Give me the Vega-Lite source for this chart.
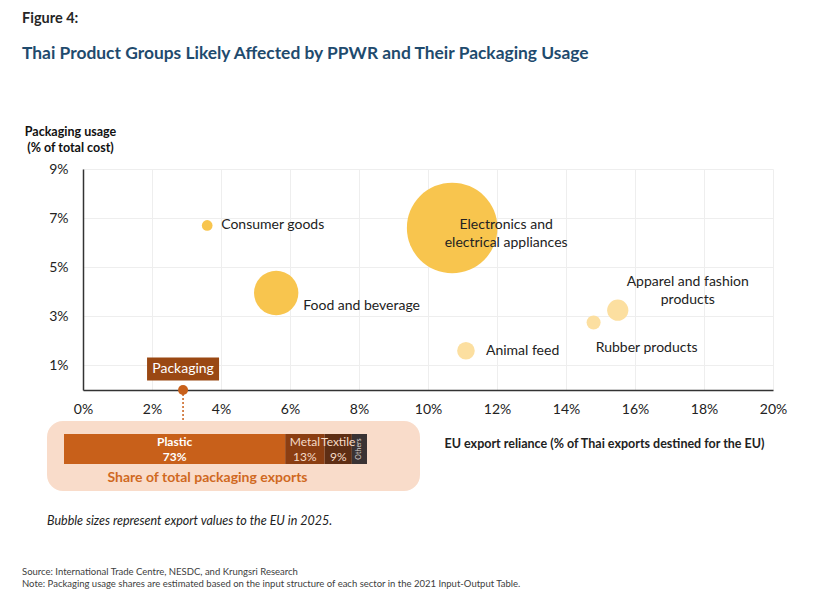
{
  "$schema": "https://vega.github.io/schema/vega-lite/v6.json",
  "background": "white",
  "padding": {"left": 22, "top": 11, "right": 10, "bottom": 10},
  "bounds": "flush",
  "spacing": 31,
  "resolve": {"scale": {"color": "independent", "size": "independent", "x": "independent", "y": "independent"}},
  "title": {
    "text": "Source: International Trade Centre, NESDC, and Krungsri Research",
    "subtitle": "Note: Packaging usage shares are estimated based on the input structure of each sector in the 2021 Input-Output Table.",
    "orient": "bottom", "anchor": "start", "frame": "group", "dx": -25, "offset": 39,
    "fontSize": 9.5, "fontWeight": "normal", "color": "#404040",
    "subtitleFontSize": 9.5, "subtitleColor": "#404040", "subtitlePadding": 3
  },
  "config": {
    "font": "Lato",
    "view": {"stroke": null},
    "axis": {"labelFont": "Lato", "titleFont": "Lato"},
    "title": {"font": "Lato", "subtitleFont": "Lato"},
    "text": {"font": "Lato"}
  },
  "vconcat": [
    {
      "width": 726,
      "height": 221,
      "title": {
        "text": "Figure 4:",
        "subtitle": "Thai Product Groups Likely Affected by PPWR and Their Packaging Usage",
        "anchor": "start", "frame": "group", "dx": -25, "offset": 62,
        "fontSize": 14.5, "fontWeight": "bold", "color": "#262626",
        "subtitleFontSize": 17.4, "subtitleFontWeight": "bold", "subtitleColor": "#1F4B6E", "subtitlePadding": 18
      },
      "data": {"values": [
        {"sector": "Consumer goods", "label": "Consumer goods", "eu_share": 3.6, "packaging_cost": 6.7, "eu_exports": 0.14, "tier": "high"},
        {"sector": "Food and beverage", "label": "Food and beverage", "eu_share": 5.6, "packaging_cost": 3.95, "eu_exports": 2.4, "tier": "high"},
        {"sector": "Electronics and electrical appliances", "label": "Electronics and\nelectrical appliances", "eu_share": 10.7, "packaging_cost": 6.6, "eu_exports": 10.0, "tier": "high"},
        {"sector": "Animal feed", "label": "Animal feed", "eu_share": 11.1, "packaging_cost": 1.6, "eu_exports": 0.38, "tier": "low"},
        {"sector": "Rubber products", "label": "Rubber products", "eu_share": 14.8, "packaging_cost": 2.75, "eu_exports": 0.24, "tier": "low"},
        {"sector": "Apparel and fashion products", "label": "Apparel and fashion\nproducts", "eu_share": 15.5, "packaging_cost": 3.25, "eu_exports": 0.55, "tier": "low"},
        {"sector": "Packaging", "label": "Packaging", "eu_share": 2.9, "packaging_cost": 0, "eu_exports": null, "tier": "packaging"}
      ]},
      "encoding": {
        "x": {
          "field": "eu_share", "type": "quantitative",
          "scale": {"domain": [0, 20], "range": [36, 726], "nice": false, "zero": false},
          "axis": {
            "values": [0, 2, 4, 6, 8, 10, 12, 14, 16, 18, 20],
            "labelExpr": "datum.value + '%'",
            "ticks": false, "tickSize": 0, "labelPadding": 12, "labelFlush": false,
            "labelFontSize": 14, "labelColor": "#222",
            "domainColor": "#333", "domainWidth": 1.5,
            "grid": true, "gridColor": "#eeeeee",
            "title": "EU export reliance (% of Thai exports destined for the EU)",
            "titleX": 557, "titleY": 57, "titleAlign": "center", "titleBaseline": "alphabetic",
            "titleFontSize": 12.5, "titleFontWeight": "bold", "titleColor": "#222"
          }
        },
        "y": {
          "field": "packaging_cost", "type": "quantitative",
          "scale": {"domain": [0, 9], "nice": false, "zero": false},
          "axis": {
            "values": [1, 3, 5, 7, 9],
            "labelExpr": "datum.value + '%'",
            "offset": -36,
            "ticks": false, "tickSize": 0, "labelPadding": 15, "labelFlush": false,
            "labelFontSize": 14, "labelColor": "#222",
            "domainColor": "#333", "domainWidth": 1.5,
            "grid": true, "gridColor": "#eeeeee",
            "title": ["Packaging usage", "(% of total cost)"],
            "titleAngle": 0, "titleAlign": "center", "titleX": -13, "titleY": -34,
            "titleBaseline": "alphabetic", "titleLineHeight": 16,
            "titleFontSize": 12.5, "titleFontWeight": "bold", "titleColor": "#111"
          }
        }
      },
      "layer": [
        {
          "transform": [{"filter": "datum.sector !== 'Packaging'"}],
          "mark": {"type": "circle", "opacity": 1},
          "encoding": {
            "size": {"field": "eu_exports", "type": "quantitative", "scale": {"domain": [0, 10], "range": [0, 8200]}, "legend": null},
            "color": {"field": "tier", "type": "nominal", "scale": {"domain": ["high", "low"], "range": ["#F8C54E", "#FCDFA0"]}, "legend": null}
          }
        },
        {
          "transform": [{"filter": "datum.sector === 'Consumer goods'"}],
          "mark": {"type": "text", "align": "left", "baseline": "middle", "dx": 14, "dy": 0, "fontSize": 14, "color": "#222"},
          "encoding": {"text": {"field": "label"}}
        },
        {
          "transform": [{"filter": "datum.sector === 'Food and beverage'"}],
          "mark": {"type": "text", "align": "left", "baseline": "middle", "dx": 27, "dy": 13, "fontSize": 14, "color": "#222"},
          "encoding": {"text": {"field": "label"}}
        },
        {
          "transform": [{"filter": "datum.sector === 'Electronics and electrical appliances'"}],
          "mark": {"type": "text", "align": "center", "baseline": "middle", "dx": 54, "dy": -3, "fontSize": 14, "lineHeight": 18, "lineBreak": "\n", "color": "#222"},
          "encoding": {"text": {"field": "label"}}
        },
        {
          "transform": [{"filter": "datum.sector === 'Animal feed'"}],
          "mark": {"type": "text", "align": "left", "baseline": "middle", "dx": 20, "dy": 0, "fontSize": 14, "color": "#222"},
          "encoding": {"text": {"field": "label"}}
        },
        {
          "transform": [{"filter": "datum.sector === 'Rubber products'"}],
          "mark": {"type": "text", "align": "center", "baseline": "middle", "dx": 53, "dy": 26, "fontSize": 14, "color": "#222"},
          "encoding": {"text": {"field": "label"}}
        },
        {
          "transform": [{"filter": "datum.sector === 'Apparel and fashion products'"}],
          "mark": {"type": "text", "align": "center", "baseline": "middle", "dx": 70, "dy": -28, "fontSize": 14, "lineHeight": 18, "lineBreak": "\n", "color": "#222"},
          "encoding": {"text": {"field": "label"}}
        },
        {
          "transform": [{"filter": "datum.sector === 'Packaging'"}],
          "mark": {"type": "rule", "color": "#C8601A", "strokeDash": [2, 2], "strokeWidth": 1.5},
          "encoding": {"y2": {"datum": -1.3}}
        },
        {
          "transform": [{"filter": "datum.sector === 'Packaging'"}],
          "mark": {"type": "circle", "size": 100, "opacity": 1, "color": "#C8601A"}
        },
        {
          "transform": [{"filter": "datum.sector === 'Packaging'"}],
          "mark": {"type": "rect", "width": 72, "height": 23, "yOffset": -21, "color": "#9A4813"}
        },
        {
          "transform": [{"filter": "datum.sector === 'Packaging'"}],
          "mark": {"type": "text", "align": "center", "baseline": "middle", "dy": -21, "fontSize": 14, "color": "white"},
          "encoding": {"text": {"field": "label"}}
        }
      ]
    },
    {
      "width": 373,
      "height": 70,
      "view": {"fill": "#F9DCCA", "cornerRadius": 16, "stroke": null},
      "title": {
        "text": "Bubble sizes represent export values to the EU in 2025.",
        "orient": "bottom", "anchor": "start", "frame": "group", "offset": 24,
        "fontSize": 12.5, "fontStyle": "italic", "fontWeight": "normal", "color": "#222"
      },
      "data": {"values": [
        {"series": "Packaging exports", "material": "Plastic", "share": 0.73},
        {"series": "Packaging exports", "material": "Metal", "share": 0.13},
        {"series": "Packaging exports", "material": "Textile", "share": 0.09},
        {"series": "Packaging exports", "material": "Others", "share": 0.05}
      ]},
      "encoding": {
        "y": {"field": "series", "type": "nominal", "scale": {"range": [13, 43], "paddingInner": 0, "paddingOuter": 0}, "axis": null},
        "order": {"field": "share", "sort": "descending"},
        "detail": {"field": "material"}
      },
      "layer": [
        {
          "mark": {"type": "bar"},
          "encoding": {
            "x": {"field": "share", "type": "quantitative", "stack": "zero",
              "scale": {"domain": [0, 1], "range": [17, 320], "nice": false, "zero": false},
              "axis": {"orient": "bottom", "domain": false, "ticks": false, "labels": false, "grid": false,
                "title": "Share of total packaging exports", "titleX": 160, "titleY": -14,
                "titleAlign": "center", "titleBaseline": "middle", "titleFontSize": 14, "titleFontWeight": "bold", "titleColor": "#D0691F"}},
            "color": {"field": "material", "type": "nominal", "scale": {"domain": ["Plastic", "Metal", "Textile", "Others"], "range": ["#C8601A", "#8B3E12", "#5E2E14", "#3A3334"]}, "legend": null}
          }
        },
        {
          "mark": {"type": "text", "align": "center", "baseline": "middle", "dy": -7.5, "fontSize": 12, "fontWeight": "bold", "color": "white"},
          "encoding": {
            "x": {"field": "share", "type": "quantitative", "stack": "zero", "bandPosition": 0.5,
              "axis": {"orient": "bottom", "domain": false, "ticks": false, "labels": false, "grid": false,
                "title": "Share of total packaging exports", "titleX": 160, "titleY": -14,
                "titleAlign": "center", "titleBaseline": "middle", "titleFontSize": 14, "titleFontWeight": "bold", "titleColor": "#D0691F"}},
            "text": {"condition": {"test": "datum.material === 'Plastic'", "field": "material", "type": "nominal"}, "value": ""}
          }
        },
        {
          "mark": {"type": "text", "align": "center", "baseline": "middle", "dy": 7.5, "fontSize": 12, "fontWeight": "bold", "color": "white"},
          "encoding": {
            "x": {"field": "share", "type": "quantitative", "stack": "zero", "bandPosition": 0.5,
              "axis": {"orient": "bottom", "domain": false, "ticks": false, "labels": false, "grid": false,
                "title": "Share of total packaging exports", "titleX": 160, "titleY": -14,
                "titleAlign": "center", "titleBaseline": "middle", "titleFontSize": 14, "titleFontWeight": "bold", "titleColor": "#D0691F"}},
            "text": {"condition": {"test": "datum.material === 'Plastic'", "field": "share", "type": "quantitative", "format": ".0%"}, "value": ""}
          }
        },
        {
          "mark": {"type": "text", "align": "center", "baseline": "middle", "dy": -7.5, "fontSize": 12, "color": "#F6DCC8"},
          "encoding": {
            "x": {"field": "share", "type": "quantitative", "stack": "zero", "bandPosition": 0.5,
              "axis": {"orient": "bottom", "domain": false, "ticks": false, "labels": false, "grid": false,
                "title": "Share of total packaging exports", "titleX": 160, "titleY": -14,
                "titleAlign": "center", "titleBaseline": "middle", "titleFontSize": 14, "titleFontWeight": "bold", "titleColor": "#D0691F"}},
            "text": {"condition": {"test": "datum.material === 'Metal' || datum.material === 'Textile'", "field": "material", "type": "nominal"}, "value": ""}
          }
        },
        {
          "mark": {"type": "text", "align": "center", "baseline": "middle", "dy": 7.5, "fontSize": 12, "color": "#F6DCC8"},
          "encoding": {
            "x": {"field": "share", "type": "quantitative", "stack": "zero", "bandPosition": 0.5,
              "axis": {"orient": "bottom", "domain": false, "ticks": false, "labels": false, "grid": false,
                "title": "Share of total packaging exports", "titleX": 160, "titleY": -14,
                "titleAlign": "center", "titleBaseline": "middle", "titleFontSize": 14, "titleFontWeight": "bold", "titleColor": "#D0691F"}},
            "text": {"condition": {"test": "datum.material === 'Metal' || datum.material === 'Textile'", "field": "share", "type": "quantitative", "format": ".0%"}, "value": ""}
          }
        },
        {
          "mark": {"type": "text", "align": "center", "baseline": "middle", "angle": 270, "fontSize": 7, "color": "#D8D0CC"},
          "encoding": {
            "x": {"field": "share", "type": "quantitative", "stack": "zero", "bandPosition": 0.5,
              "axis": {"orient": "bottom", "domain": false, "ticks": false, "labels": false, "grid": false,
                "title": "Share of total packaging exports", "titleX": 160, "titleY": -14,
                "titleAlign": "center", "titleBaseline": "middle", "titleFontSize": 14, "titleFontWeight": "bold", "titleColor": "#D0691F"}},
            "text": {"condition": {"test": "datum.material === 'Others'", "field": "material", "type": "nominal"}, "value": ""}
          }
        }
      ]
    }
  ]
}
